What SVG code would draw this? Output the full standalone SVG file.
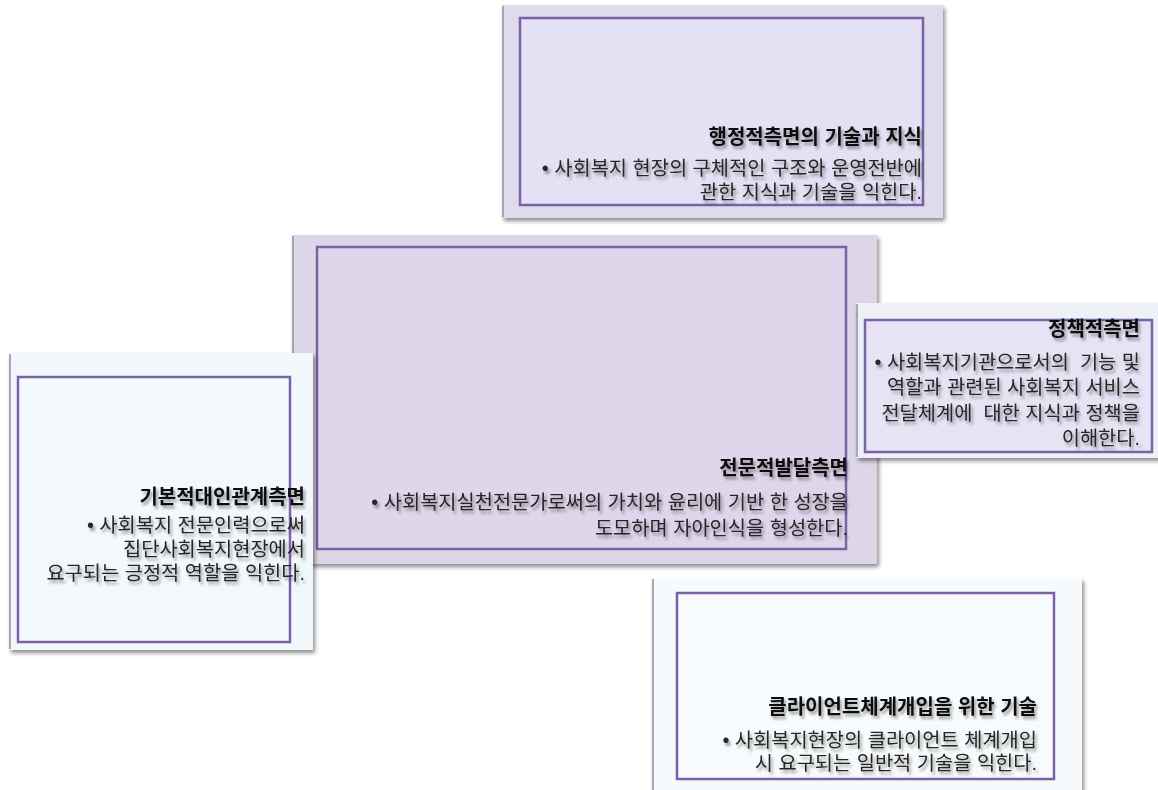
<svg xmlns="http://www.w3.org/2000/svg" width="1158" height="790" viewBox="0 0 1158 790">
<defs>
<filter id="cardShadow" x="-5%" y="-5%" width="112%" height="115%">
<feGaussianBlur in="SourceAlpha" stdDeviation="2"/>
<feOffset dx="2" dy="3" result="b"/>
<feComponentTransfer><feFuncA type="linear" slope="0.45"/></feComponentTransfer>
<feMerge><feMergeNode/><feMergeNode in="SourceGraphic"/></feMerge>
</filter>
<filter id="textShadow" x="-5%" y="-30%" width="112%" height="170%">
<feGaussianBlur in="SourceAlpha" stdDeviation="1.6"/>
<feOffset dx="1.5" dy="2.5" result="b"/>
<feComponentTransfer><feFuncA type="linear" slope="0.4"/></feComponentTransfer>
<feMerge><feMergeNode/><feMergeNode in="SourceGraphic"/></feMerge>
</filter>
</defs>
<style>
.card{filter:url(#cardShadow);}
.bevel{fill:none;stroke:#a9a6b8;stroke-width:2;}
.inner{stroke:#7b62a6;stroke-width:2.5;}
text{font-family:"Liberation Sans","Noto Sans CJK KR",sans-serif;text-anchor:end;white-space:pre;filter:url(#textShadow);}
.title{font-size:20px;font-weight:bold;fill:#111;}
.body{font-size:19.8px;fill:#262626;}
</style>
<rect width="1158" height="790" fill="#ffffff"/>
<g id="connectors"></g>

<g id="node-admin">
<rect class="card" x="502" y="5" width="441" height="213" fill="#dedbec"/>
<path class="bevel" d="M503 217 V6"/>
<rect class="inner" x="520" y="18" width="403" height="187" fill="#e4e1f4"/>
<text class="title" x="922" y="144">행정적측면의 기술과 지식</text>
<text class="body"><tspan x="922" y="175">• 사회복지 현장의 구체적인 구조와 운영전반에</tspan><tspan x="922" y="199">관한 지식과 기술을 익힌다.</tspan></text>
</g>

<g id="node-professional">
<rect class="card" x="292" y="235" width="585" height="329" fill="#ddd5e8"/>
<path class="bevel" d="M293 563 V236"/>
<rect class="inner" x="317" y="247" width="529" height="302" fill="#e0d6ec"/>
<text class="title" x="848" y="475">전문적발달측면</text>
<text class="body"><tspan x="848" y="509">• 사회복지실천전문가로써의 가치와 윤리에 기반 한 성장을</tspan><tspan x="848" y="535">도모하며 자아인식을 형성한다.</tspan></text>
</g>

<g id="node-interpersonal">
<rect class="card" x="9" y="353" width="304" height="297" fill="#f1f7fb"/>
<path class="bevel" d="M10 649 V354"/>
<rect class="inner" x="18" y="377" width="272" height="265" fill="#f2f8fc"/>
<text class="title" x="305" y="504">기본적대인관계측면</text>
<text class="body"><tspan x="305" y="532">• 사회복지 전문인력으로써</tspan><tspan x="305" y="556">집단사회복지현장에서</tspan><tspan x="305" y="580">요구되는 긍정적 역할을 익힌다.</tspan></text>
</g>

<g id="node-policy">
<rect class="card" x="856" y="303" width="310" height="155" fill="#eef0f8"/>
<path class="bevel" d="M857 457 V304"/>
<rect class="inner" x="865" y="320" width="287" height="132" fill="#e6e4f4"/>
<text class="title" x="1140" y="336">정책적측면</text>
<text class="body"><tspan x="1140" y="369">• 사회복지기관으로서의  기능 및</tspan><tspan x="1140" y="394">역할과 관련된 사회복지 서비스</tspan><tspan x="1140" y="420">전달체계에  대한 지식과 정책을</tspan><tspan x="1140" y="445">이해한다.</tspan></text>
</g>

<g id="node-client">
<rect class="card" x="652" y="578" width="430" height="216" fill="#f6fafc"/>
<path class="bevel" d="M653 790 V579"/>
<rect class="inner" x="677" y="593" width="377" height="186" fill="#f8fbfd"/>
<text class="title" x="1037" y="714">클라이언트체계개입을 위한 기술</text>
<text class="body"><tspan x="1037" y="747">• 사회복지현장의 클라이언트 체계개입</tspan><tspan x="1037" y="770">시 요구되는 일반적 기술을 익힌다.</tspan></text>
</g>
</svg>
